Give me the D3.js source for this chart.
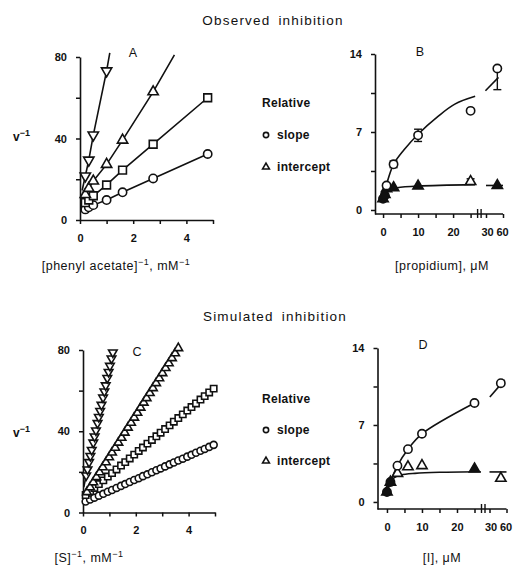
<!DOCTYPE html>
<html lang="en">
<head>
<meta charset="utf-8">
<title>Observed and simulated inhibition</title>
<script src="https://d3js.org/d3.v7.min.js"></script>
<style>
  body { margin: 0; background: #fff; }
  text { font-family: "Liberation Sans", Arial, sans-serif; fill: #111; }
</style>
</head>
<body>
<script>

// ---------- A: observed, double reciprocal ----------
var aX = [0.2, 0.33, 0.5, 1.0, 1.6, 2.75, 4.8];
var aCircle = [5.2, 6.2, 7.3, 9.8, 13.6, 20.4, 32.4];
var aSquare = [8.5, 9.8, 11.9, 17.2, 24.5, 37.2, 60.0];
var aTriangle = [12.5, 15.5, 19.1, 27.3, 39.2, 62.9];
var aInverted = [21.6, 29.4, 41.7, 73.2];
var aLineStartY = [4.6, 7.6, 10.5, 14.5];      // at x = 0.08
var aLineEndX = [4.8, 4.8, 3.55, 1.12];
var aLineEndY = [32.4, 60.0, 81.0, 82.0];

// ---------- B: observed, replots ----------
var bX = [0, 0.5, 1, 3, 10, 25];
var bSlope = [1.0, 1.3, 2.2, 4.1, 6.7, 8.9];
var bSlopeErr = [0, 0, 0, 0.3, 0.55, 0];
var bIntercept = [1.0, 1.4, 1.9, 2.0, 2.15, 2.55];
var bInterceptErr = [0, 0, 0, 0, 0, 0.25];
var bInterceptFilled = [1, 1, 1, 1, 1, 0];
var bFarX = 50, bFarSlope = 12.7, bFarSlopeLow = 10.8, bFarIntercept = 2.2;
var bSlopeCurveX = [0, 1, 3, 6, 10, 15.7, 20.5, 26.3];
var bSlopeCurveY = [1.0, 2.3, 4.1, 5.4, 6.8, 8.4, 9.5, 10.2];
var bSlopeFarX = [29, 52], bSlopeFarY = [10.7, 11.9];
var bIntCurveX = [0, 1, 2, 4, 10, 26.3];
var bIntCurveY = [1.0, 1.6, 1.85, 2.0, 2.15, 2.28];
var bIntFarX = [30, 60], bIntFarY = [2.2, 2.2];

// ---------- C: simulated, double reciprocal ----------
var cX = [0.10, 0.27, 0.43, 0.60, 0.77, 0.94, 1.10, 1.27, 1.44, 1.60, 1.77, 1.94, 2.11, 2.27, 2.44,
          2.61, 2.78, 2.94, 3.11, 3.28, 3.44, 3.61, 3.78, 3.95, 4.11, 4.28, 4.45, 4.61, 4.78, 4.95];
var cCircle = [5.4, 6.4, 7.3, 8.3, 9.2, 10.2, 11.1, 12.1, 13.1, 14.0, 15.0, 16.0, 16.9, 17.9, 18.8,
               19.8, 20.8, 21.7, 22.7, 23.7, 24.6, 25.6, 26.5, 27.5, 28.4, 29.4, 30.4, 31.3, 32.3, 33.3];
var cSquare = [8.6, 10.4, 12.1, 14.0, 15.8, 17.7, 19.4, 21.2, 23.1, 24.8, 26.6, 28.5, 30.3, 32.0, 33.9,
               35.7, 37.5, 39.3, 41.1, 42.9, 44.7, 46.5, 48.3, 50.2, 51.9, 53.7, 55.6, 57.3, 59.1, 61.0];
var cTriX = [0.15, 0.27, 0.39, 0.51, 0.63, 0.75, 0.87, 0.99, 1.10, 1.22, 1.34, 1.46, 1.58, 1.70, 1.82,
             1.94, 2.06, 2.18, 2.30, 2.41, 2.53, 2.65, 2.77, 2.89, 3.01, 3.13, 3.25, 3.37, 3.49, 3.61];
var cTriangle = [10.0, 12.4, 14.9, 17.4, 19.8, 22.3, 24.7, 27.2, 29.5, 31.9, 34.4, 36.8, 39.3, 41.8, 44.2,
                 46.7, 49.1, 51.6, 54.1, 56.3, 58.8, 61.2, 63.7, 66.1, 68.6, 71.1, 73.5, 76.0, 78.4, 80.9];
var cInvX = [0.12, 0.17, 0.23, 0.28, 0.33, 0.39, 0.44, 0.49, 0.55, 0.60,
             0.65, 0.70, 0.76, 0.81, 0.86, 0.92, 0.97, 1.02, 1.08, 1.13];
var cInverted = [18.2, 21.2, 24.8, 27.8, 30.8, 34.4, 37.4, 40.4, 44.0, 47.0,
                 50.0, 53.0, 56.6, 59.6, 62.6, 66.2, 69.2, 72.2, 75.8, 78.8];
var cLineStartY = [4.9, 7.8, 7.5, 12.5];       // at x = 0.03
var cLineEndX = [4.95, 4.95, 3.61, 1.13];
var cLineEndY = [33.3, 61.0, 80.9, 78.8];

// ---------- D: simulated, replots ----------
var dX = [0, 1, 3, 6, 10, 25];
var dSlope = [0.9, 1.82, 3.3, 4.8, 6.2, 9.0];
var dSlopeFilled = [1, 1, 0, 0, 0, 0];
var dIntercept = [0.9, 1.8, 2.6, 3.2, 3.3, 3.0];
var dInterceptFilled = [1, 1, 0, 0, 0, 1];
var dFarX = 50, dFarSlope = 10.8, dFarIntercept = 2.15;
var dSlopeFarX = [30.6, 56.8], dSlopeFarY = [9.55, 11.1];
var dIntCurveX = [0, 1, 2, 4, 8, 15, 26.8];
var dIntCurveY = [0.9, 1.75, 2.2, 2.45, 2.6, 2.7, 2.75];
var dIntFarX = [30, 60], dIntFarY = [2.73, 2.73];

var lbTicksX = [0, 1, 2, 3, 4, 5], lbLabelsX = [0, 2, 4];
var lbTicksY = [0, 20, 40, 60, 80], lbLabelsY = [0, 40, 80];
var repTicksX = [0, 5, 10, 15, 20, 25], repLabelsX = [0, 10, 20];
var repFarTicks = [30, 60];
var repTicksY = [0, 3.5, 7, 10.5, 14], repLabelsY = [0, 7, 14];

var w = 514, h = 566;
var svg = d3.select("body").append("svg").attr("width", w).attr("height", h);

var ink = "#111";
function drawSym(g, pts, type, size, filled, invert) {
  var gen = d3.symbol()
    .type(type == "circle" ? d3.symbolCircle : type == "square" ? d3.symbolSquare : d3.symbolTriangle)
    .size(size);
  g.selectAll(null).data(pts).enter().append("path")
    .attr("d", gen)
    .attr("transform", d => "translate(" + d[0] + "," + d[1] + ")" + (invert ? " rotate(180)" : ""))
    .attr("fill", d => (d[2] === undefined ? filled : d[2]) ? ink : "#fff")
    .attr("stroke", ink)
    .attr("stroke-width", 1.6);
}

function styleAxis(g) {
  g.select(".domain").attr("stroke", ink).attr("stroke-width", 1.6);
  g.selectAll(".tick line").attr("stroke", ink).attr("stroke-width", 1.5);
  g.selectAll("text").attr("font-family", "Liberation Sans, Arial, sans-serif")
    .attr("font-size", 11).attr("font-weight", "bold").attr("fill", ink);
}

function lineOf(x, y, curve) {
  var l = d3.line().x(d => x(d[0])).y(d => y(d[1]));
  if (curve) l.curve(d3.curveCatmullRom.alpha(0.5));
  return l;
}

function zip(xs, ys, fl) {
  return ys.map((v, i) => fl ? [xs[i], v, fl[i]] : [xs[i], v]);
}

// ---------- double-reciprocal panels ----------
function lbPanel(x, y, letter, letterPos, series, lineStartX, lineStartY, lineEndX, lineEndY, sizes) {
  var g = svg.append("g");
  g.append("g").attr("transform", "translate(0," + y(0) + ")")
    .call(d3.axisBottom(x).tickValues(lbTicksX).tickSize(4).tickPadding(10).tickSizeOuter(0)
      .tickFormat(d => lbLabelsX.indexOf(d) >= 0 ? d : ""))
    .call(styleAxis);
  g.append("g").attr("transform", "translate(" + x(0) + ",0)")
    .call(d3.axisLeft(y).tickValues(lbTicksY).tickSize(4).tickPadding(9).tickSizeOuter(0)
      .tickFormat(d => lbLabelsY.indexOf(d) >= 0 ? d : ""))
    .call(styleAxis);

  series.forEach(function (s, i) {
    var pts = [[lineStartX, lineStartY[i]]].concat(s.xs.map((v, j) => [v, s.ys[j]]));
    pts.push([lineEndX[i], lineEndY[i]]);
    g.append("path").datum(pts).attr("d", lineOf(x, y))
      .attr("fill", "none").attr("stroke", ink).attr("stroke-width", 1.6);
  });
  series.forEach(function (s) {
    drawSym(g, s.xs.map((v, j) => [x(v), y(s.ys[j])]), s.type, sizes[s.type], false, s.invert);
  });
  g.append("text").attr("x", letterPos[0]).attr("y", letterPos[1])
    .attr("text-anchor", "middle").attr("font-size", 12.5).text(letter);
}

var xA = d3.scaleLinear().domain([0, 5]).range([80, 213]);
var yA = d3.scaleLinear().domain([0, 80]).range([220, 57]);
lbPanel(xA, yA, "A", [133, 57], [
  { xs: aX, ys: aCircle, type: "circle" },
  { xs: aX, ys: aSquare, type: "square" },
  { xs: aX.slice(0, 6), ys: aTriangle, type: "tri" },
  { xs: aX.slice(0, 4), ys: aInverted, type: "tri", invert: true }
], 0.08, aLineStartY, aLineEndX, aLineEndY, { circle: 54, square: 60, tri: 46 });

var xC = d3.scaleLinear().domain([0, 5]).range([83, 215]);
var yC = d3.scaleLinear().domain([0, 80]).range([512.5, 350]);
lbPanel(xC, yC, "C", [137, 356], [
  { xs: cX, ys: cCircle, type: "circle" },
  { xs: cX, ys: cSquare, type: "square" },
  { xs: cTriX, ys: cTriangle, type: "tri" },
  { xs: cInvX, ys: cInverted, type: "tri", invert: true }
], 0.03, cLineStartY, cLineEndX, cLineEndY, { circle: 38, square: 40, tri: 32 });

// ---------- replot panels (broken x axis) ----------
function repPanel(x1, x2, y, letter, letterPos, d) {
  var g = svg.append("g");
  var yb = y.range()[0];
  g.append("line").attr("x1", x1.range()[0]).attr("x2", x2.range()[1])
    .attr("y1", yb).attr("y2", yb).attr("stroke", ink).attr("stroke-width", 1.6);
  g.append("g").attr("transform", "translate(0," + yb + ")")
    .call(d3.axisBottom(x1).tickValues(repTicksX).tickSize(4).tickPadding(10)
      .tickFormat(v => repLabelsX.indexOf(v) >= 0 ? v : ""))
    .call(styleAxis).call(a => a.select(".domain").remove());
  g.append("g").attr("transform", "translate(0," + yb + ")")
    .call(d3.axisBottom(x2).tickValues(repFarTicks).tickSize(4).tickPadding(10))
    .call(styleAxis).call(a => a.select(".domain").remove())
    .call(a => a.selectAll(".tick text").attr("dx", (v, i) => i ? -1 : 1));
  [0, 3.5].forEach(function (off) {
    var bx = x1.range()[1] + off;
    g.append("line").attr("x1", bx).attr("x2", bx).attr("y1", yb - 5).attr("y2", yb + 4)
      .attr("stroke", ink).attr("stroke-width", 1.4);
  });
  g.append("g").attr("transform", "translate(" + x1.range()[0] + ",0)")
    .call(d3.axisLeft(y).tickValues(repTicksY).tickSize(4).tickPadding(9).tickSizeOuter(0)
      .tickFormat(v => repLabelsY.indexOf(v) >= 0 ? v : ""))
    .call(styleAxis);

  // fitted curves
  [[d.slopeCurve, x1], [d.slopeFar, x2], [d.intCurve, x1], [d.intFar, x2]].forEach(function (c) {
    g.append("path").datum(c[0]).attr("d", lineOf(c[1], y, c[0].length > 2))
      .attr("fill", "none").attr("stroke", ink).attr("stroke-width", 1.6);
  });
  // error bars
  d.errors.forEach(function (e) {
    var xx = e[2] ? x2(e[0]) : x1(e[0]);
    g.append("line").attr("x1", xx).attr("x2", xx).attr("y1", y(e[1])).attr("y2", y(e[3]))
      .attr("stroke", ink).attr("stroke-width", 1.4);
    [e[1], e[3]].forEach(function (v) {
      if (e[4] && v == e[3]) return;
      g.append("line").attr("x1", xx - 4).attr("x2", xx + 4).attr("y1", y(v)).attr("y2", y(v))
        .attr("stroke", ink).attr("stroke-width", 1.4);
    });
  });
  drawSym(g, d.intercept.map(p => [x1(p[0]), y(p[1]), p[2]]), "tri", 46, false);
  drawSym(g, [[x2(d.far[0]), y(d.far[2]), d.far[3]]], "tri", 46, false);
  drawSym(g, d.slope.map(p => [x1(p[0]), y(p[1]), p[2]]), "circle", 54, false);
  drawSym(g, [[x2(d.far[0]), y(d.far[1]), 0]], "circle", 54, false);
  g.append("text").attr("x", letterPos[0]).attr("y", letterPos[1])
    .attr("text-anchor", "middle").attr("font-size", 12.5).text(letter);
}

var xB1 = d3.scaleLinear().domain([-2.3, 27]).range([375, 477.6]);
var xB2 = d3.scaleLinear().domain([30, 60]).range([486, 503]);
var yB = d3.scaleLinear().domain([-0.36, 14]).range([214, 54]);
var bErrors = [];
bX.forEach(function (v, i) {
  if (bSlopeErr[i]) bErrors.push([v, bSlope[i] - bSlopeErr[i], 0, bSlope[i] + bSlopeErr[i]]);
  if (bInterceptErr[i]) bErrors.push([v, bIntercept[i] - bInterceptErr[i], 0, bIntercept[i] + bInterceptErr[i]]);
});
bErrors.push([bFarX, bFarSlopeLow, 1, bFarSlope, true]);
repPanel(xB1, xB2, yB, "B", [420, 56], {
  slope: zip(bX, bSlope, bX.map(v => v < 1 ? 1 : 0)),
  intercept: zip(bX, bIntercept, bInterceptFilled),
  far: [bFarX, bFarSlope, bFarIntercept, 1],
  slopeCurve: zip(bSlopeCurveX, bSlopeCurveY),
  slopeFar: zip(bSlopeFarX, bSlopeFarY),
  intCurve: zip(bIntCurveX, bIntCurveY),
  intFar: zip(bIntFarX, bIntFarY),
  errors: bErrors
});

var xD1 = d3.scaleLinear().domain([-2.7, 27]).range([377.5, 481.5]);
var xD2 = d3.scaleLinear().domain([30, 60]).range([489.5, 506.5]);
var yD = d3.scaleLinear().domain([-0.64, 14]).range([509, 348]);
repPanel(xD1, xD2, yD, "D", [423, 349], {
  slope: zip(dX, dSlope, dSlopeFilled),
  intercept: zip(dX, dIntercept, dInterceptFilled),
  far: [dFarX, dFarSlope, dFarIntercept, 0],
  slopeCurve: zip(dX, dSlope),
  slopeFar: zip(dSlopeFarX, dSlopeFarY),
  intCurve: zip(dIntCurveX, dIntCurveY),
  intFar: zip(dIntFarX, dIntFarY),
  errors: []
});

// ---------- titles, axis labels, legends ----------
function label(x, y, size, parts, weight, anchor) {
  var t = svg.append("text").attr("x", x).attr("y", y).attr("font-size", size)
    .attr("text-anchor", anchor || "middle").attr("font-weight", weight || "normal");
  parts.forEach(function (p) {
    if (typeof p == "string") t.append("tspan").text(p);
    else t.append("tspan").attr("dy", p.dy).attr("font-size", p.size).text(p.t);
  });
  return t;
}

label(273, 25, 13.5, ["Observed inhibition"]).attr("letter-spacing", 1.2).attr("word-spacing", 3);
label(275, 321, 13.5, ["Simulated inhibition"]).attr("letter-spacing", 1.2).attr("word-spacing", 3);

[141, 437].forEach(function (yy) {
  label(13, yy, 12, ["v", { t: "\u22121", dy: -5, size: 9 }], "bold", "start");
});

label(116, 270, 12.5, ["[phenyl acetate]", { t: "\u22121", dy: -5, size: 9 }, { t: ", mM", dy: 5 },
  { t: "\u22121", dy: -5, size: 9 }]).attr("letter-spacing", 0.5);
label(442, 270, 12.5, ["[propidium], \u03bcM"]).attr("letter-spacing", 0.5);
label(89, 562, 12.5, ["[S]", { t: "\u22121", dy: -5, size: 9 }, { t: ", mM", dy: 5 },
  { t: "\u22121", dy: -5, size: 9 }]).attr("letter-spacing", 0.5);
label(442, 562, 12.5, ["[I], \u03bcM"]).attr("letter-spacing", 0.5);

[[107, 135, 167], [403, 430, 461]].forEach(function (r) {
  label(262, r[0], 12, ["Relative"], "bold", "start").attr("letter-spacing", 0.3);
  label(277, r[1] + 4, 12, ["slope"], "bold", "start").attr("letter-spacing", 0.3);
  label(277, r[2] + 4, 12, ["intercept"], "bold", "start").attr("letter-spacing", 0.3);
  var lg = svg.append("g");
  drawSym(lg, [[266, r[1], 0]], "circle", 22, false);
  drawSym(lg, [[266, r[2], 0]], "tri", 20, false);
});

</script>
</body>
</html>
